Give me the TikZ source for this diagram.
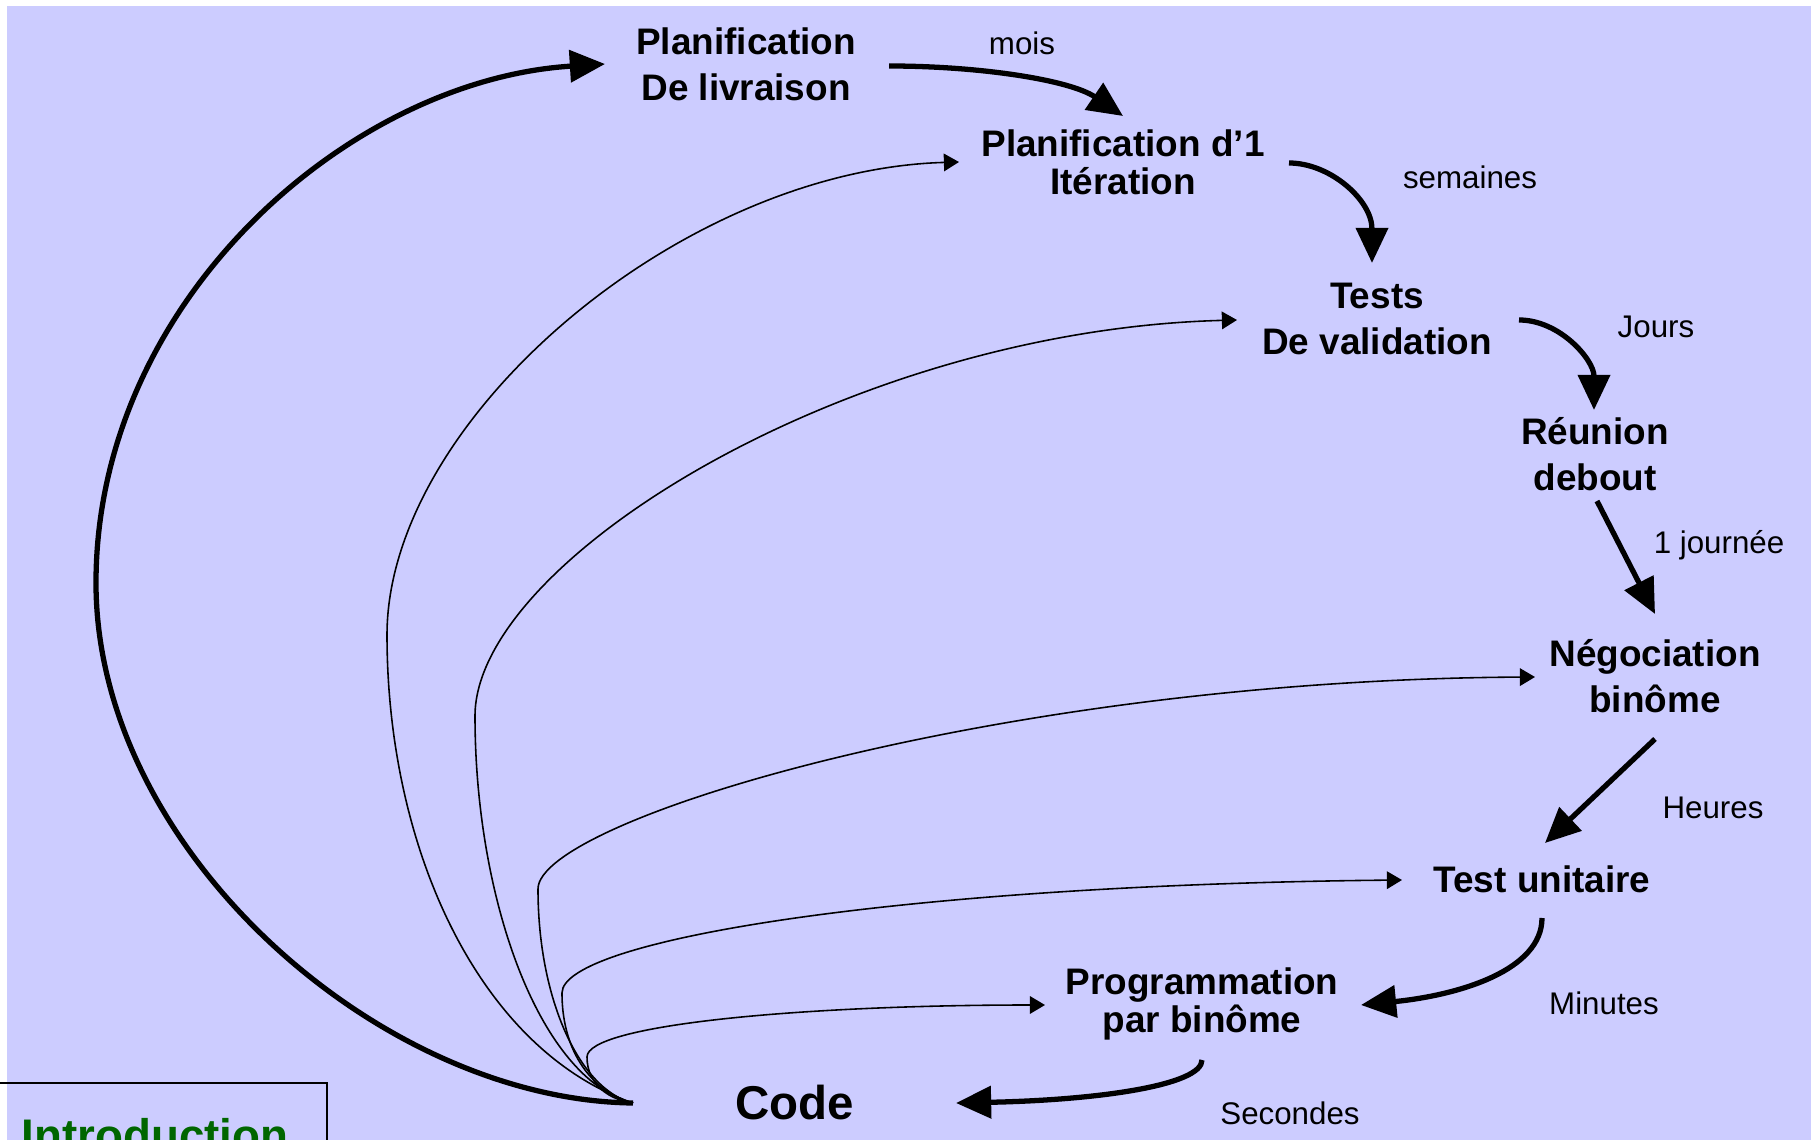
\documentclass[tikz,border=0pt]{standalone}
\usepackage{fontspec}
\setmainfont{Liberation Sans}
\usetikzlibrary{arrows.meta}
\definecolor{lav}{HTML}{CCCCFF}
\definecolor{introgreen}{HTML}{006600}
\tikzset{
  stage/.style={font=\fontsize{10.5}{13.1}\selectfont\bfseries, align=center, inner sep=0pt},
  stagetight/.style={font=\fontsize{10.5}{10.8}\selectfont\bfseries, align=center, inner sep=0pt},
  lab/.style={font=\fontsize{8.9}{10}\selectfont, inner sep=0pt},
  bigarrow/.style={-{Triangle[length=10pt,width=9pt]}, line width=1.5pt},
  thinarrow/.style={-{Triangle[length=4.3pt,width=5pt]}, line width=0.45pt},
}
\begin{document}
\begin{tikzpicture}[x={(0.01cm,0)}, y={(0,-0.01cm)}]
\useasboundingbox (0,0) rectangle (1811,1140);
\clip (0,0) rectangle (1811,1140);
\fill[white] (0,0) rectangle (1811,1140);
\fill[lav] (7,6) rectangle (1811,1140);

% stages
\node[stage] (pl) at (746,64) {Planification\\De livraison};
\node[stagetight] (pi) at (1123,162) {Planification d’1\\Itération};
\node[stage] (tv) at (1377,319) {Tests\\De validation};
\node[stage] (rd) at (1595,454) {Réunion\\debout};
\node[stage] (nb) at (1655,676) {Négociation\\binôme};
\node[stage] (tu) at (1542,879) {Test unitaire};
\node[stagetight] (pb) at (1202,1004) {Programmation\\par binôme};
\node[font=\fontsize{13.5}{16}\selectfont\bfseries, inner sep=0pt] (code) at (795,1103) {Code};
\coordinate (o) at (633,1103);

% time labels
\node[lab] (lmois) at (1022,43) {mois};
\node[lab] (lsem) at (1470,177) {semaines};
\node[lab] (ljours) at (1656,327) {Jours};
\node[lab] (ljour) at (1719,545) {1 journée};
\node[lab] (lheures) at (1713,808) {Heures};
\node[lab] (lmin) at (1604,1003) {Minutes};
\node[lab] (lsec) at (1290,1113) {Secondes};

% main cycle (thick)
\draw[bigarrow] ([shift={(143,2)}]pl.center) .. controls (980,66) and (1070,80) .. ([shift={(0,-46)}]pi.center);
\draw[bigarrow] ([shift={(166,1)}]pi.center) .. controls (1330,163) and (1372,200) .. ([shift={(-5,-56)}]tv.center);
\draw[bigarrow] ([shift={(142,1)}]tv.center) .. controls (1560,320) and (1594,360) .. ([shift={(-1,-44)}]rd.center);
\draw[bigarrow] ([shift={(2,47)}]rd.center) -- ([shift={(0,-62)}]nb.center);
\draw[bigarrow] ([shift={(0,63)}]nb.center) -- ([shift={(3,-36)}]tu.center);
\draw[bigarrow] ([shift={(0,39)}]tu.center) .. controls (1542,970) and (1460,995) .. ([shift={(159,1)}]pb.center);
\draw[bigarrow] ([shift={(0,56)}]pb.center) .. controls (1202,1085) and (1100,1100) .. ([shift={(161,0)}]code.center);
\draw[bigarrow] (o) .. controls (380,1100) and (96,850) .. (96,583)
   .. controls (96,300) and (350,80) .. ([shift={(-141,0)}]pl.center);

% feedback loops (thin)
\draw[thinarrow] (o) .. controls (480,1050) and (387,850) .. (387,635)
   .. controls (387,420) and (680,170) .. ([shift={(-164,0)}]pi.center);
\draw[thinarrow] (o) .. controls (540,1080) and (475,900) .. (475,716)
   .. controls (475,560) and (850,330) .. ([shift={(-140,1)}]tv.center);
\draw[thinarrow] (o) .. controls (580,1090) and (538,1000) .. (538,889)
   .. controls (538,820) and (1000,680) .. ([shift={(-120,1)}]nb.center);
\draw[thinarrow] (o) .. controls (600,1095) and (562,1060) .. (562,993)
   .. controls (562,940) and (900,885) .. ([shift={(-140,1)}]tu.center);
\draw[thinarrow] (o) .. controls (610,1100) and (587,1085) .. (587,1057)
   .. controls (587,1025) and (800,1005) .. ([shift={(-157,1)}]pb.center);

% Introduction box
\draw[line width=0.4pt] (0,1083) -- (327,1083) -- (327,1160);
\coordinate (boxcorner) at (327,1083);
\node[font=\fontsize{13}{15}\selectfont\bfseries, text=introgreen, anchor=base west, inner sep=0pt] (intro) at (21,1151) {Introduction};
\end{tikzpicture}
\end{document}
